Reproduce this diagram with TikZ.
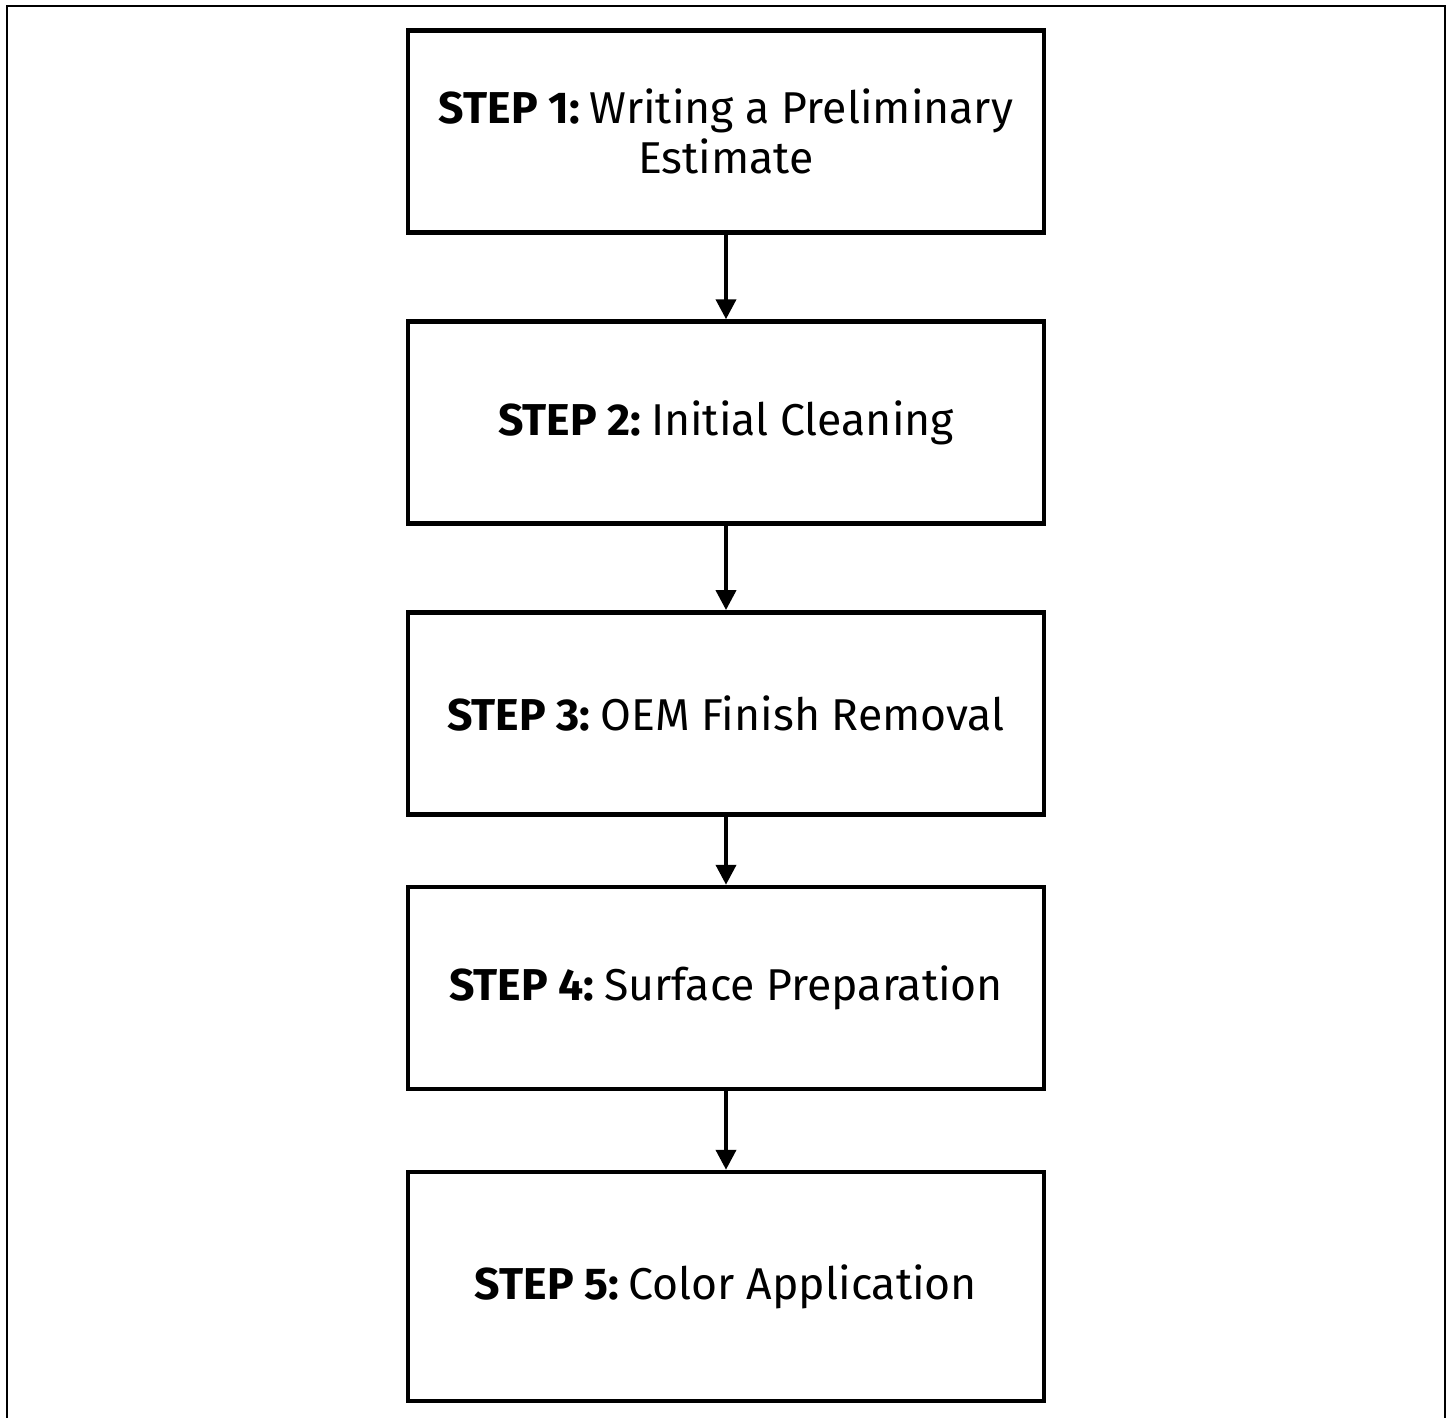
\documentclass[tikz,border=0pt]{standalone}
\usepackage{fontspec}
\setmainfont{Fira Sans}
\usetikzlibrary{arrows.meta}

\newcommand{\steplabel}[1]{\textbf{STEP #1:}\hspace{0.22em}}

\begin{document}
\begin{tikzpicture}[
		x=0.5pt, y=-0.5pt,
		stepbox/.style={draw, line width=2.25pt, fill=white, minimum width=318pt, minimum height=101pt, align=center, font=\fontsize{22.3}{25}\selectfont},
		flow/.style={-{Triangle[width=10pt, length=10pt]}, line width=2pt},
	]
		\useasboundingbox (0,0) rectangle (1451,1418);
		% outer frame, open at the bottom
		\draw[line width=1pt] (6.5,1425) -- (6.5,6.5) -- (1445,6.5) -- (1445,1425);

		\node (s1) [stepbox] at (726,131.5) {\steplabel{1}Writing a Preliminary\\Estimate};
		\node (s2) [stepbox] at (726,422.5) {\steplabel{2}Initial Cleaning};
		\node (s3) [stepbox] at (726,713.3) {\steplabel{3}OEM Finish Removal};
		\node (s4) [stepbox] at (726,988) {\steplabel{4}Surface Preparation};
		\node (s5) [stepbox, minimum height=114.5pt] at (726,1286.5) {\steplabel{5}Color Application};

		\draw[flow] (s1) -- (s2);
		\draw[flow] (s2) -- (s3);
		\draw[flow] (s3) -- (s4);
		\draw[flow] (s4) -- (s5);
	\end{tikzpicture}
\end{document}
